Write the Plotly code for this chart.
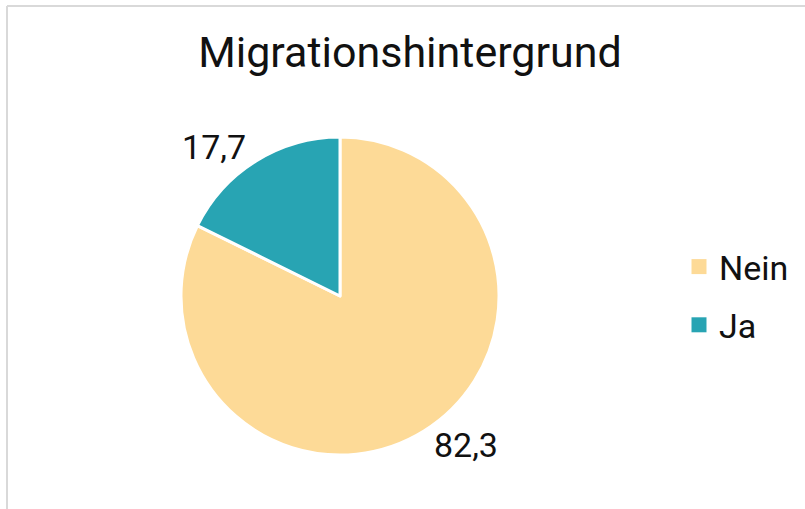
import plotly.graph_objects as go

labels = ["Nein", "Ja"]
values = [82.3, 17.7]
text_labels = ["82,3", "17,7"]
colors = ["#FDDA97", "#28A4B3"]
title_text = "Migrationshintergrund"

W, H = 805, 509

fig = go.Figure()
fig.add_trace(go.Pie(
    labels=labels,
    values=values,
    text=text_labels,
    textinfo="text",
    textposition="outside",
    sort=False,
    direction="clockwise",
    rotation=0,
    marker=dict(colors=colors, line=dict(color="white", width=3)),
    textfont=dict(family="Roboto", size=34, color="#111111"),
    domain=dict(x=[181 / W, 499 / W], y=[54 / H, 372 / H]),
    hoverinfo="label+value",
    showlegend=False,
))

# legend entries (one per slice, same labels/colours as the pie)
for i, (lab, col) in enumerate(zip(labels, colors)):
    fig.add_trace(go.Scatter(
        x=[None], y=[None], mode="markers", name=lab,
        marker=dict(symbol="square", size=15, color=col),
        legendgroup=f"g{i}", showlegend=True, hoverinfo="skip",
    ))

fig.update_xaxes(visible=False)
fig.update_yaxes(visible=False)

fig.update_layout(
    width=W, height=H,
    margin=dict(l=0, r=0, t=0, b=0),
    paper_bgcolor="white",
    plot_bgcolor="white",
    title=dict(text=title_text, x=410 / W, xref="container", xanchor="center",
               y=1 - 52 / H, yref="container", yanchor="middle",
               font=dict(family="Roboto", size=43, color="#111111")),
    legend=dict(x=679 / W, xanchor="left", y=1 - 296 / H, yanchor="middle",
                font=dict(family="Roboto", size=34, color="#111111"),
                bgcolor="rgba(0,0,0,0)", tracegroupgap=11),
    shapes=[
        dict(type="line", xref="paper", yref="paper", x0=7 / W, x1=7 / W, y0=0, y1=1 - 6 / H,
             line=dict(color="#D9D9D9", width=2)),
        dict(type="line", xref="paper", yref="paper", x0=7 / W, x1=1, y0=1 - 6 / H, y1=1 - 6 / H,
             line=dict(color="#D9D9D9", width=2)),
    ],
)

fig.write_html("out.html", config={"displayModeBar": False},
               post_script="document.body.style.margin='0';")
